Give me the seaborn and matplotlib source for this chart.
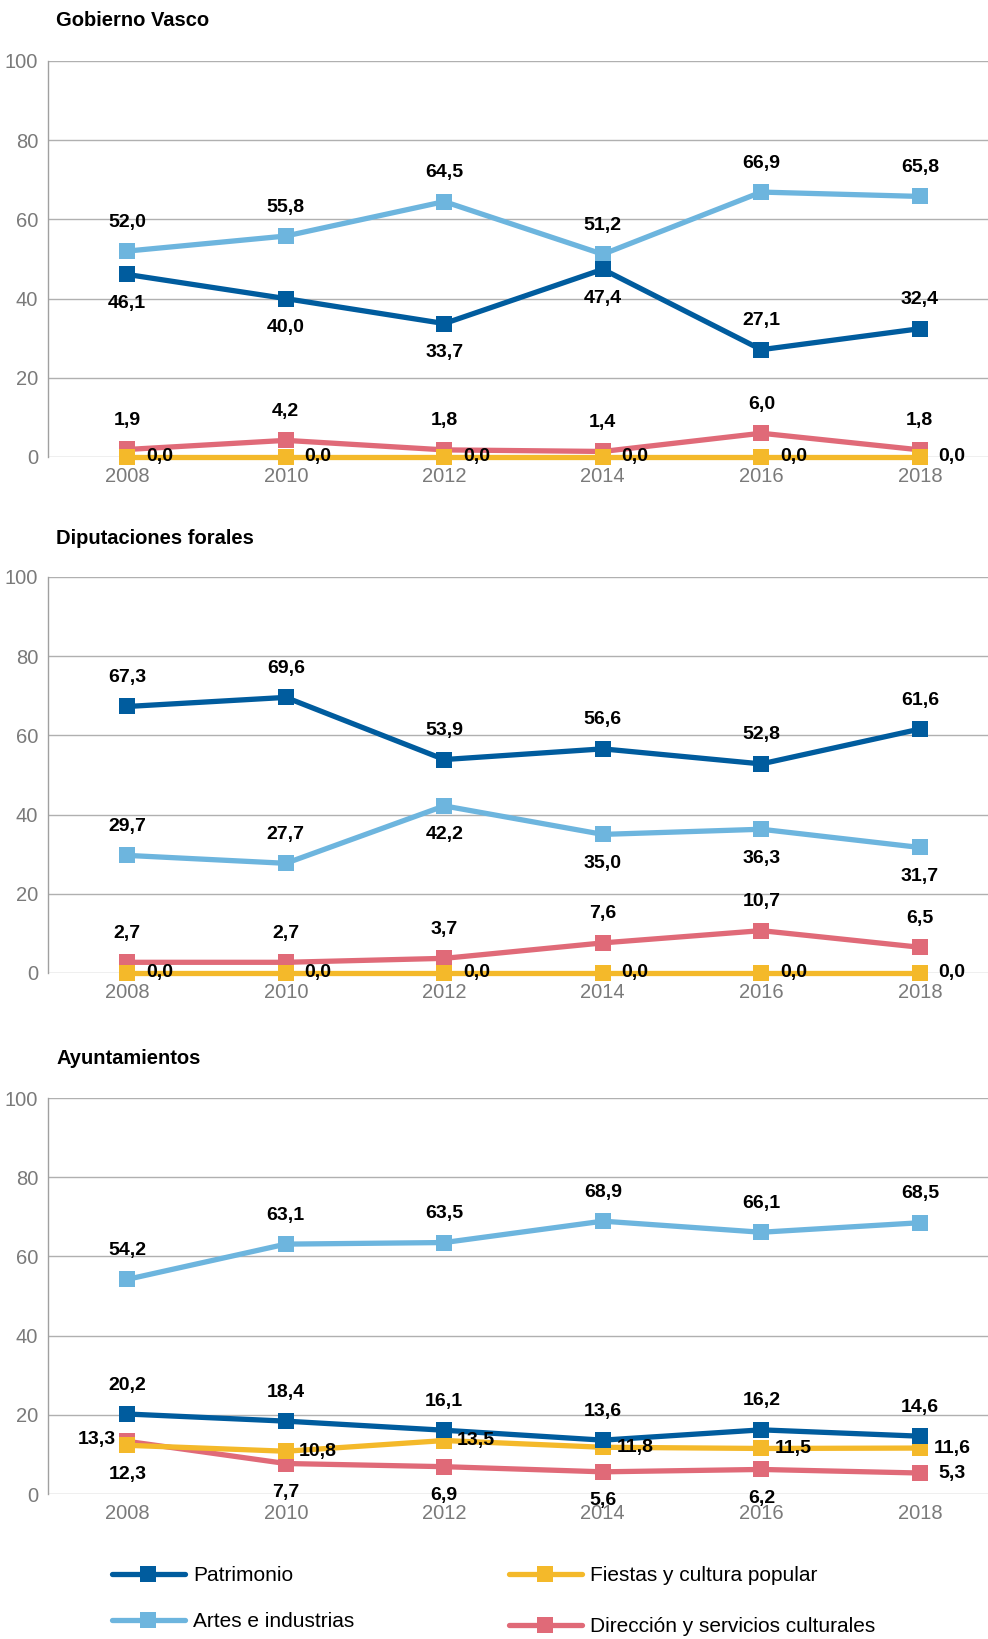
import numpy as np
import pandas as pd
import matplotlib
matplotlib.use("Agg")
import matplotlib.pyplot as plt
import seaborn as sns
from matplotlib.lines import Line2D

years = [2008, 2010, 2012, 2014, 2016, 2018]

series_names = ["Patrimonio", "Artes e industrias",
                "Fiestas y cultura popular", "Dirección y servicios culturales"]

panel_titles = ["Gobierno Vasco", "Diputaciones forales", "Ayuntamientos"]

# Gobierno Vasco
gv_patrimonio = [46.1, 40.0, 33.7, 47.4, 27.1, 32.4]
gv_artes = [52.0, 55.8, 64.5, 51.2, 66.9, 65.8]
gv_fiestas = [0.0, 0.0, 0.0, 0.0, 0.0, 0.0]
gv_direccion = [1.9, 4.2, 1.8, 1.4, 6.0, 1.8]

# Diputaciones forales
df_patrimonio = [67.3, 69.6, 53.9, 56.6, 52.8, 61.6]
df_artes = [29.7, 27.7, 42.2, 35.0, 36.3, 31.7]
df_fiestas = [0.0, 0.0, 0.0, 0.0, 0.0, 0.0]
df_direccion = [2.7, 2.7, 3.7, 7.6, 10.7, 6.5]

# Ayuntamientos
ay_patrimonio = [20.2, 18.4, 16.1, 13.6, 16.2, 14.6]
ay_artes = [54.2, 63.1, 63.5, 68.9, 66.1, 68.5]
ay_fiestas = [12.3, 10.8, 13.5, 11.8, 11.5, 11.6]
ay_direccion = [13.3, 7.7, 6.9, 5.6, 6.2, 5.3]

panels = [
    [gv_patrimonio, gv_artes, gv_fiestas, gv_direccion],
    [df_patrimonio, df_artes, df_fiestas, df_direccion],
    [ay_patrimonio, ay_artes, ay_fiestas, ay_direccion],
]

colors = ["#005c9e", "#6db5de", "#f4b92a", "#e06a78"]

# label placement per panel / series / point: above, below, right, left
U, D, R, L = "a", "b", "r", "l"
label_pos = [
    [[D, D, D, D, U, U], [U] * 6, [R] * 6, [U] * 6],
    [[U] * 6, [U, U, D, D, D, D], [R] * 6, [U] * 6],
    [[U] * 6, [U] * 6, [D, R, R, R, R, R], [L, D, D, D, D, R]],
]
offsets = {U: (0, 29), D: (0, -29), R: (32, 0), L: (-30, 2)}

sns.set_style("white")
plt.rcParams["font.family"] = ["Liberation Sans", "DejaVu Sans"]
plt.rcParams["text.color"] = "black"

W, H = 988, 1639
fig = plt.figure(figsize=(W / 100, H / 100), dpi=100)

tops = [61, 577, 1098]
bottoms = [457, 973, 1494]
title_y = [21, 538, 1058]
left = 48

for i, vals in enumerate(panels):
    ax = fig.add_axes([left / W, 1 - bottoms[i] / H, (W - left) / W,
                       (bottoms[i] - tops[i]) / H])
    for j, v in enumerate(vals):
        d = pd.DataFrame({"year": years, "value": v})
        sns.lineplot(data=d, x="year", y="value", ax=ax, color=colors[j],
                     linewidth=3.8, marker="s", markersize=11.5,
                     markeredgewidth=0, clip_on=False, zorder=3 + (3 - j) * 0.1)
        for k, (x, y) in enumerate(zip(years, v)):
            dx, dy = offsets[label_pos[i][j][k]]
            ax.annotate(f"{y:.1f}".replace(".", ","), (x, y), xytext=(dx, dy),
                        textcoords="offset pixels", ha="center", va="center",
                        fontsize=14, fontweight="bold", color="black",
                        zorder=10)
    ax.set_xlim(2007, 2018.86)
    ax.set_ylim(0, 100)
    ax.set_yticks([0, 20, 40, 60, 80, 100])
    ax.set_xticks(years)
    ax.set_xlabel("")
    ax.set_ylabel("")
    ax.grid(axis="y", color="#b0b0b0", linewidth=1)
    ax.grid(axis="x", visible=False)
    for s in ["top", "right", "bottom"]:
        ax.spines[s].set_visible(False)
    ax.spines["left"].set_color("#a0a0a0")
    ax.spines["left"].set_linewidth(1)
    ax.tick_params(axis="both", length=0, labelsize=14.5, labelcolor="#7a7a7a")
    ax.tick_params(axis="y", pad=7)
    ax.tick_params(axis="x", pad=7)
    ax.set_axisbelow(True)
    fig.text(56 / W, 1 - title_y[i] / H, panel_titles[i], fontsize=14.5,
             fontweight="bold", va="center", ha="left", color="black")

handles = [Line2D([0], [0], color=c, linewidth=3.8, marker="s", markersize=11.5,
                  markeredgewidth=0) for c in colors]
leg_kw = dict(loc="upper left", frameon=False, fontsize=15, handlelength=3.5,
              handletextpad=0.4, borderpad=0, borderaxespad=0)
fig.legend(handles[:2], series_names[:2], bbox_to_anchor=(112 / W, 1 - 1566 / H),
           labelspacing=1.3, **leg_kw)
fig.legend(handles[2:], series_names[2:], bbox_to_anchor=(509 / W, 1 - 1566 / H),
           labelspacing=1.55, **leg_kw)

fig.savefig("out.png", dpi=100)
